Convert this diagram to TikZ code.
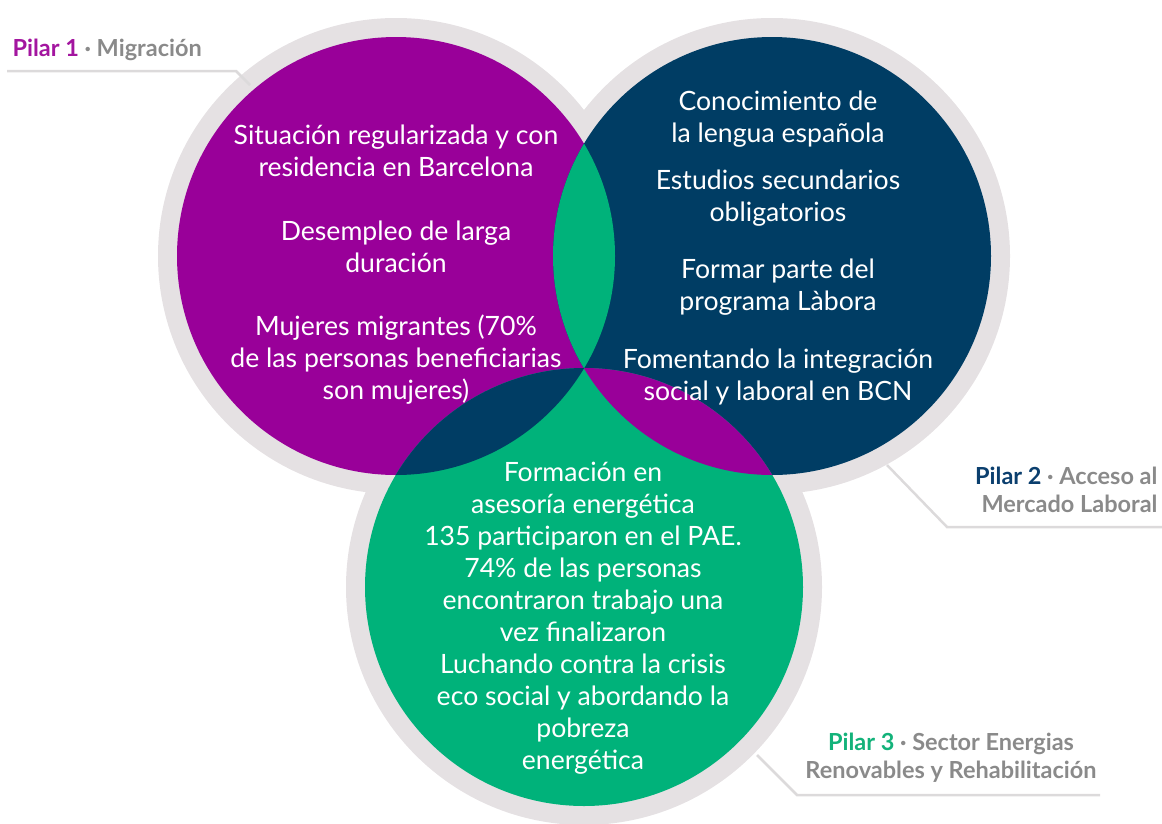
\documentclass[tikz,border=0pt]{standalone}
\usepackage{fontspec}
\setmainfont{Lato}
\definecolor{migra}{HTML}{990099}
\definecolor{labor}{HTML}{003D64}
\definecolor{energ}{HTML}{00B27A}
\definecolor{ringgray}{HTML}{E5E1E3}
\definecolor{leadgray}{HTML}{DCDADB}
\definecolor{textgray}{HTML}{8A8A8A}
\definecolor{tagone}{HTML}{A3159F}
\definecolor{tagtwo}{HTML}{0B3F6E}
\definecolor{tagthree}{HTML}{13B27A}

\begin{document}
\begin{tikzpicture}[x=1pt,y=-1pt,
  body/.style={text=white,align=center,font=\fontsize{26.6}{32}\selectfont},
  tag/.style={text=textgray,font=\bfseries\fontsize{23.5}{28}\selectfont},
  leader/.style={draw=leadgray,line width=2.5pt}]
\useasboundingbox (0,0) rectangle (1162,823);
\coordinate (cp) at (396,256);
\coordinate (cn) at (772,256);
\coordinate (cg) at (584,587);
% rings and circles
\fill[ringgray] (cp) circle (238) (cn) circle (238) (cg) circle (238);
\fill[migra] (cp) circle (219);
\fill[labor] (cn) circle (219);
\fill[energ] (cg) circle (219);
\begin{scope}
\clip (cp) circle (219);
\fill[energ] (cn) circle (219);
\fill[labor] (cg) circle (219);
\end{scope}
\begin{scope}
\clip (cn) circle (219);
\fill[migra] (cg) circle (219);
\end{scope}
% leaders
\coordinate (a1) at (7,71);
\coordinate (b1) at (236,71);
\coordinate (c1) at (250,85);
\draw[leader] (a1) -- (b1) -- (c1);
\coordinate (a2) at (887,465);
\coordinate (b2) at (947,527);
\coordinate (c2) at (1162,527);
\draw[leader] (a2) -- (b2) -- (c2);
\coordinate (a3) at (757,755);
\coordinate (b3) at (797,795);
\coordinate (c3) at (1100,795);
\draw[leader] (a3) -- (b3) -- (c3);
% labels
\node[tag,anchor=base west] (tag1) at (9,56) {\textcolor{tagone}{Pilar 1} · Migración};
\node[tag,anchor=east,align=right] (tag2) at (1161,490) {\textcolor{tagtwo}{Pilar 2} · Acceso al\\Mercado Laboral};
\node[tag,align=center] (tag3) at (951,758) {\textcolor{tagthree}{Pilar 3} · Sector Energias\\Renovables y Rehabilitación};
% texts
\node[body] (m1) at (396,151) {Situación regularizada y con\\residencia en Barcelona};
\node[body] (m2) at (396,247) {Desempleo de larga\\duración};
\node[body] (m3) at (396,360) {Mujeres migrantes (70\%\\de las personas beneficiarias\\son mujeres)};
\node[body] (l1) at (778,119) {Conocimiento de\\la lengua española};
\node[body] (l2) at (778,198) {Estudios secundarios\\obligatorios};
\node[body] (l3) at (778,287) {Formar parte del\\programa Làbora};
\node[body] (l4) at (778,377) {Fomentando la integración\\social y laboral en BCN};
\node[body] (e1) at (583,618) {Formación en\\asesoría energética\\135 participaron en el PAE.\\74\% de las personas\\encontraron trabajo una\\vez finalizaron\\Luchando contra la crisis\\eco social y abordando la\\pobreza\\energética};
\end{tikzpicture}
\end{document}
